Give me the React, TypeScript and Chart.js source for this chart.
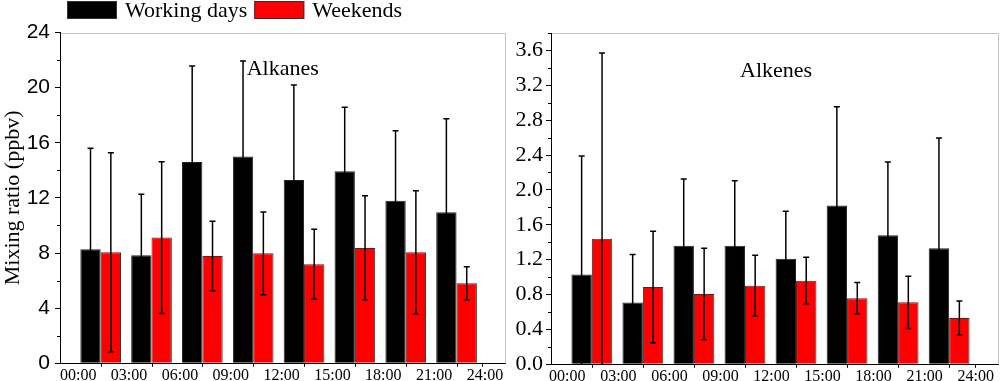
import React, { useEffect, useRef } from 'react';
import { Chart, registerables } from 'chart.js';

Chart.register(...registerables);

// ---------------- data ----------------
const seriesNames = ['Working days', 'Weekends'];
const hourTickValues = [0, 3, 6, 9, 12, 15, 18, 21, 24];
const hourTickLabels = ['00:00', '03:00', '06:00', '09:00', '12:00', '15:00', '18:00', '21:00', '24:00'];
const groupHours = [1.5, 4.5, 7.5, 10.5, 13.5, 16.5, 19.5, 22.5];
const xMarkHours = [1.5, 4.5, 7.5, 10.5, 13.5, 16.5, 19.5, 22.5, 24];

const alkanesWorking = [8.27, 7.84, 14.61, 15.0, 13.3, 13.93, 11.8, 10.96];
const alkanesWorkingErr = [7.33, 4.42, 6.96, 6.94, 6.9, 4.65, 5.08, 6.79];
const alkanesWeekend = [8.05, 9.12, 7.79, 7.98, 7.18, 8.37, 8.05, 5.8];
const alkanesWeekendErr = [7.23, 5.5, 2.52, 3.0, 2.54, 3.78, 4.47, 1.2];

const alkenesWorking = [1.03, 0.71, 1.36, 1.36, 1.21, 1.82, 1.48, 1.33];
const alkenesWorkingErr = [1.36, 0.55, 0.765, 0.745, 0.545, 1.135, 0.84, 1.265];
const alkenesWeekend = [1.44, 0.886, 0.806, 0.9, 0.959, 0.757, 0.711, 0.53];
const alkenesWeekendErr = [2.13, 0.64, 0.525, 0.35, 0.268, 0.18, 0.3, 0.197];

const alkanesYTicks = [0, 4, 8, 12, 16, 20, 24];
const alkenesYTicks = [0, 0.4, 0.8, 1.2, 1.6, 2.0, 2.4, 2.8, 3.2, 3.6];

// ---------------- styling ----------------
const SERIF = "'Times New Roman', 'Liberation Serif', serif";
const SANS = "Arial, 'Liberation Sans', sans-serif";
const WORK_COLOR = '#000000';
const WEEKEND_COLOR = '#ff0000';

const panelDecor = {
  id: 'panelDecor',
  afterDatasetsDraw(chart: any) {
    const { ctx, chartArea: a, scales } = chart;
    const ys = scales.y;
    ctx.save();
    ctx.beginPath();
    ctx.rect(a.left, a.top - 4, a.right - a.left, a.bottom - a.top + 4);
    ctx.clip();
    ctx.strokeStyle = '#000';
    ctx.lineWidth = 1.5;
    chart.data.datasets.forEach((ds: any, di: number) => {
      const meta = chart.getDatasetMeta(di);
      const errs = ds.errorBars;
      if (!errs) return;
      meta.data.forEach((el: any, j: number) => {
        const v = ds.data[j].y;
        const e = errs[j];
        const x = el.x;
        const lo = v - e;
        const hi = v + e;
        const yLo = ys.getPixelForValue(Math.max(lo, ys.min));
        const yHi = ys.getPixelForValue(hi);
        ctx.beginPath();
        ctx.moveTo(x, yLo);
        ctx.lineTo(x, yHi);
        ctx.moveTo(x - 3, yHi);
        ctx.lineTo(x + 3, yHi);
        if (lo > ys.min) {
          ctx.moveTo(x - 3, yLo);
          ctx.lineTo(x + 3, yLo);
        }
        ctx.stroke();
      });
    });
    ctx.restore();
  },
  afterDraw(chart: any, _args: any, opts: any) {
    const { ctx, chartArea: a, scales } = chart;
    const xs = scales.x;
    const ys = scales.y;
    ctx.save();
    // frame (top + right) in light gray
    ctx.strokeStyle = '#c4c4c4';
    ctx.lineWidth = 1;
    ctx.beginPath();
    ctx.moveTo(a.left + 1, Math.round(a.top) + 0.5);
    ctx.lineTo(Math.round(a.right) - 0.5, Math.round(a.top) + 0.5);
    ctx.lineTo(Math.round(a.right) - 0.5, a.bottom - 1);
    ctx.stroke();

    // minor y ticks
    ctx.strokeStyle = '#000';
    ctx.lineWidth = 1;
    const majors: number[] = opts.yTicks;
    const minors: number[] = [];
    for (let i = 0; i < majors.length - 1; i++) minors.push((majors[i] + majors[i + 1]) / 2);
    const step = majors[1] - majors[0];
    const extra = majors[majors.length - 1] + step / 2;
    if (extra <= ys.max + 1e-9) minors.push(extra);
    ctx.beginPath();
    minors.forEach((v) => {
      const y = Math.round(ys.getPixelForValue(v)) + 0.5;
      ctx.moveTo(a.left - 3, y);
      ctx.lineTo(a.left, y);
    });
    // x tick marks
    xMarkHours.forEach((h) => {
      const x = Math.round(xs.getPixelForValue(h)) + 0.5;
      ctx.moveTo(x, a.bottom);
      ctx.lineTo(x, a.bottom + 3.5);
    });
    ctx.stroke();

    // panel label
    ctx.fillStyle = '#000';
    ctx.font = `22px ${SERIF}`;
    ctx.textAlign = 'left';
    ctx.textBaseline = 'alphabetic';
    ctx.fillText(opts.label, a.left + opts.labelDx, a.top + opts.labelDy);

    // legend
    if (opts.legend) {
      let cx = opts.legendX;
      chart.data.datasets.forEach((ds: any) => {
        ctx.fillStyle = ds.backgroundColor;
        ctx.fillRect(cx, opts.legendY, 50, 18);
        ctx.strokeStyle = '#333';
        ctx.lineWidth = 1;
        ctx.strokeRect(cx + 0.5, opts.legendY + 0.5, 49, 17);
        ctx.fillStyle = '#000';
        ctx.font = `22px ${SERIF}`;
        const tx = cx + 58;
        ctx.fillText(ds.label, tx, opts.legendY + 15.7);
        cx = tx + ctx.measureText(ds.label).width + 7;
      });
    }
    ctx.restore();
  },
};

function makeConfig(p: any) {
  return {
    type: 'bar',
    data: {
      datasets: [
        {
          label: seriesNames[0],
          data: groupHours.map((h, i) => ({ x: h, y: p.working[i] })),
          errorBars: p.workingErr,
          backgroundColor: WORK_COLOR,
          borderColor: '#222',
          borderWidth: 1,
          categoryPercentage: 0.8,
          barPercentage: 1,
        },
        {
          label: seriesNames[1],
          data: groupHours.map((h, i) => ({ x: h, y: p.weekend[i] })),
          errorBars: p.weekendErr,
          backgroundColor: WEEKEND_COLOR,
          borderColor: '#333',
          borderWidth: 1,
          categoryPercentage: 0.8,
          barPercentage: 1,
        },
      ],
    },
    options: {
      responsive: false,
      animation: false,
      events: [],
      layout: { padding: p.padding },
      plugins: {
        legend: { display: false },
        tooltip: { enabled: false },
        panelDecor: {
          label: p.label,
          labelDx: p.labelDx,
          labelDy: p.labelDy,
          legend: p.legend,
          legendX: 67,
          legendY: 1,
          yTicks: p.yTicks,
        },
      },
      scales: {
        x: {
          type: 'linear',
          min: -0.9,
          max: 25.4,
          offset: false,
          afterBuildTicks: (scale: any) => {
            scale.ticks = hourTickValues.map((v) => ({ value: v }));
          },
          afterFit: (scale: any) => {
            scale.height = p.xAxisHeight;
          },
          ticks: {
            autoSkip: false,
            maxRotation: 0,
            minRotation: 0,
            padding: 0,
            labelOffset: p.labelOffset,
            color: '#000',
            font: { family: SERIF, size: 16 },
            callback: (v: number) => {
              const i = hourTickValues.indexOf(v);
              return i >= 0 ? hourTickLabels[i] : '';
            },
          },
          grid: {
            drawOnChartArea: false,
            drawTicks: true,
            tickLength: 3,
            tickColor: 'rgba(0,0,0,0)',
            offset: false,
          },
          border: { display: true, color: '#000', width: 1 },
        },
        y: {
          type: 'linear',
          min: 0,
          max: p.yMax,
          afterBuildTicks: (scale: any) => {
            scale.ticks = p.yTicks.map((v: number) => ({ value: v }));
          },
          afterFit: (scale: any) => {
            scale.width = p.yAxisWidth;
          },
          ticks: {
            padding: p.yTickPadding,
            color: '#000',
            font: p.yTickFont,
            callback: p.yFormat,
          },
          grid: {
            drawOnChartArea: false,
            drawTicks: true,
            tickLength: 5,
            tickColor: '#000',
            tickWidth: 1,
          },
          border: { display: true, color: '#000', width: 1 },
          title: p.yTitle
            ? {
                display: true,
                text: p.yTitle,
                color: '#000',
                font: { family: SERIF, size: 22 },
                padding: { top: 0, bottom: 0 },
              }
            : { display: false },
        },
      },
    },
    plugins: [panelDecor],
  };
}

export default function App() {
  const leftRef = useRef<HTMLCanvasElement | null>(null);
  const rightRef = useRef<HTMLCanvasElement | null>(null);

  useEffect(() => {
    const left = new Chart(
      leftRef.current as HTMLCanvasElement,
      makeConfig({
        working: alkanesWorking,
        workingErr: alkanesWorkingErr,
        weekend: alkanesWeekend,
        weekendErr: alkanesWeekendErr,
        yMax: 24,
        yTicks: alkanesYTicks,
        yFormat: (v: number) => String(v),
        yTickFont: { family: SANS, size: 21 },
        yTickPadding: 5,
        yAxisWidth: 60,
        xAxisHeight: 17.7,
        padding: { left: 0, top: 32.5, right: 4.3, bottom: 0 },
        yTitle: 'Mixing ratio (ppbv)',
        label: 'Alkanes',
        labelDx: 186.7,
        labelDy: 42.5,
        legend: true,
        labelOffset: 3,
      }) as any
    );
    const right = new Chart(
      rightRef.current as HTMLCanvasElement,
      makeConfig({
        working: alkenesWorking,
        workingErr: alkenesWorkingErr,
        weekend: alkenesWeekend,
        weekendErr: alkenesWeekendErr,
        yMax: 3.8,
        yTicks: alkenesYTicks,
        yFormat: (v: number) => v.toFixed(1),
        yTickFont: { family: SERIF, size: 22 },
        yTickPadding: 3,
        yAxisWidth: 41,
        xAxisHeight: 16.7,
        padding: { left: 0, top: 33, right: 1.5, bottom: 0 },
        yTitle: '',
        label: 'Alkenes',
        labelDx: 189,
        labelDy: 43.7,
        legend: false,
        labelOffset: 1,
      }) as any
    );
    return () => {
      left.destroy();
      right.destroy();
    };
  }, []);

  return (
    <div style={{ position: 'absolute', left: 0, top: 0, width: 1000, height: 381, background: '#fff' }}>
      <canvas
        ref={leftRef}
        width={510}
        height={381}
        style={{ position: 'absolute', left: 0, top: 0, width: 510, height: 381 }}
      />
      <canvas
        ref={rightRef}
        width={490}
        height={381}
        style={{ position: 'absolute', left: 510, top: 0, width: 490, height: 381 }}
      />
    </div>
  );
}
